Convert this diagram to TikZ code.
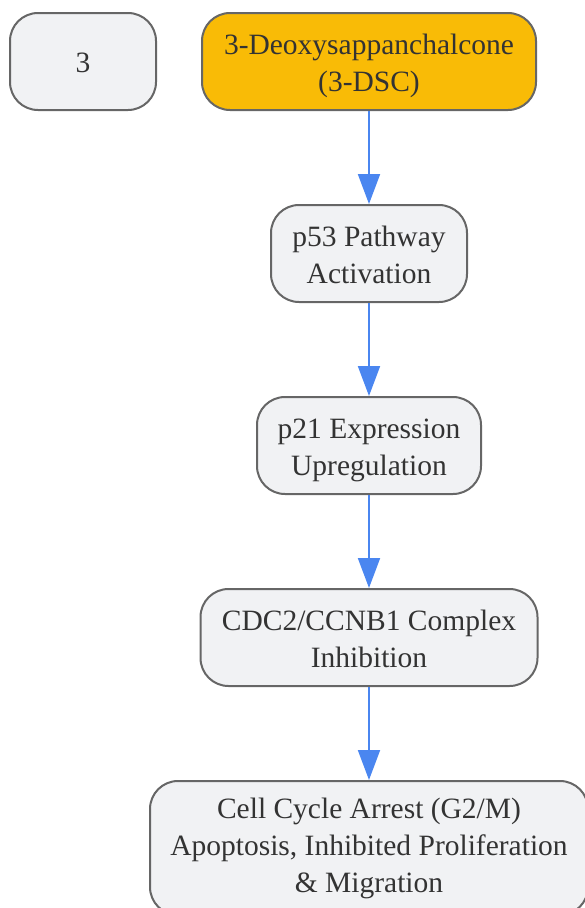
\documentclass[tikz,border=0pt]{standalone}
\usepackage{fontspec}
\setmainfont{Liberation Serif}
\usetikzlibrary{arrows.meta}
\definecolor{boxfill}{HTML}{F1F2F4}
\definecolor{boxline}{HTML}{666666}
\definecolor{gold}{HTML}{F9BB06}
\definecolor{arrowblue}{HTML}{4A86F0}
\definecolor{txt}{HTML}{333333}
\newcommand{\lowered}[1]{\raisebox{-4pt}[\height][\depth]{\begin{tabular}{@{}c@{}}#1\end{tabular}}}
\begin{document}
\begin{tikzpicture}[x=1pt,y=1pt,
  box/.style={draw=boxline, fill=boxfill, line width=2pt, rounded corners=28pt,
    inner sep=0pt, align=center, text=txt, font=\fontsize{29.5}{37}\selectfont},
  flow/.style={draw=arrowblue, line width=2pt, -{Triangle[width=22pt,length=30pt]}}]
\useasboundingbox (0,0) rectangle (585,-908);
\clip (0,0) rectangle (585,-908);
\node[box, minimum width=146, minimum height=97] (n3) at (83,-61.5) {\lowered{3}};
\node[box, fill=gold, minimum width=334, minimum height=97] (dsc) at (369,-61.5) {\lowered{3-Deoxysappanchalcone\\(3-DSC)}};
\node[box, minimum width=196, minimum height=97] (p53) at (369,-253.5) {\lowered{p53 Pathway\\Activation}};
\node[box, minimum width=224, minimum height=97] (p21) at (369,-445.5) {\lowered{p21 Expression\\Upregulation}};
\node[box, minimum width=337, minimum height=97] (cdc) at (369,-637.5) {\lowered{CDC2/CCNB1 Complex\\Inhibition}};
\node[box, minimum width=438, minimum height=134] (out) at (369,-848) {\begin{tabular}{@{}c@{}}Cell Cycle Arrest (G2/M)\\Apoptosis, Inhibited Proliferation\\\& Migration\end{tabular}};
\draw[flow] (dsc.south) -- (p53.north);
\draw[flow] (p53.south) -- (p21.north);
\draw[flow] (p21.south) -- (cdc.north);
\draw[flow] (cdc.south) -- (out.north);
\end{tikzpicture}
\end{document}
